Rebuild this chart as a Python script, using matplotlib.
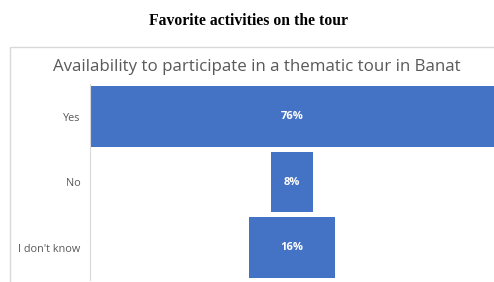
import matplotlib
matplotlib.use("Agg")
import matplotlib.pyplot as plt
from matplotlib.patches import Rectangle

# data
categories = ["Yes", "No", "I don't know"]
shares = [76, 8, 16]
value_labels = ["76%", "8%", "16%"]

fig = plt.figure(figsize=(4.94, 2.82), dpi=100)

# chart frame (light grey box, running off the right/bottom edge)
fig.patches.append(Rectangle((10 / 494, -0.1), 1.2, 1 - 47 / 282 + 0.1,
                             transform=fig.transFigure, fill=False,
                             edgecolor="#D9D9D9", linewidth=1.0))

fig.text(0.503, 1 - 21 / 282, "Favorite activities on the tour",
         ha="center", va="center", family="Liberation Serif",
         weight="bold", fontsize=11.3, color="black")
fig.text(0.52, 1 - 67 / 282, "Availability to participate in a thematic tour in Banat",
         ha="center", va="center", family="Open Sans",
         fontsize=12.15, color="#595959")

ax = fig.add_axes([90 / 494, 1.75 / 282, 404 / 494, 196.5 / 282])
ypos = list(range(len(categories)))
# funnel: bars centred on zero
lefts = [-s / 2 for s in shares]
ax.barh(ypos, shares, left=lefts, height=0.92, color="#4472C4")
for y, lab in zip(ypos, value_labels):
    ax.text(0, y, lab, ha="center", va="center", color="white",
            fontsize=8, weight="bold", family="Open Sans")

ax.set_xlim(-38, 38)
ax.set_ylim(2.5, -0.5)
ax.set_yticks(ypos)
ax.set_yticklabels(categories, family="Open Sans", fontsize=7.8, color="#595959")
ax.tick_params(axis="y", length=0, pad=7)
ax.set_xticks([])
for side in ["top", "right", "bottom"]:
    ax.spines[side].set_visible(False)
ax.spines["left"].set_color("#D9D9D9")

fig.savefig("out.png", dpi=100)
